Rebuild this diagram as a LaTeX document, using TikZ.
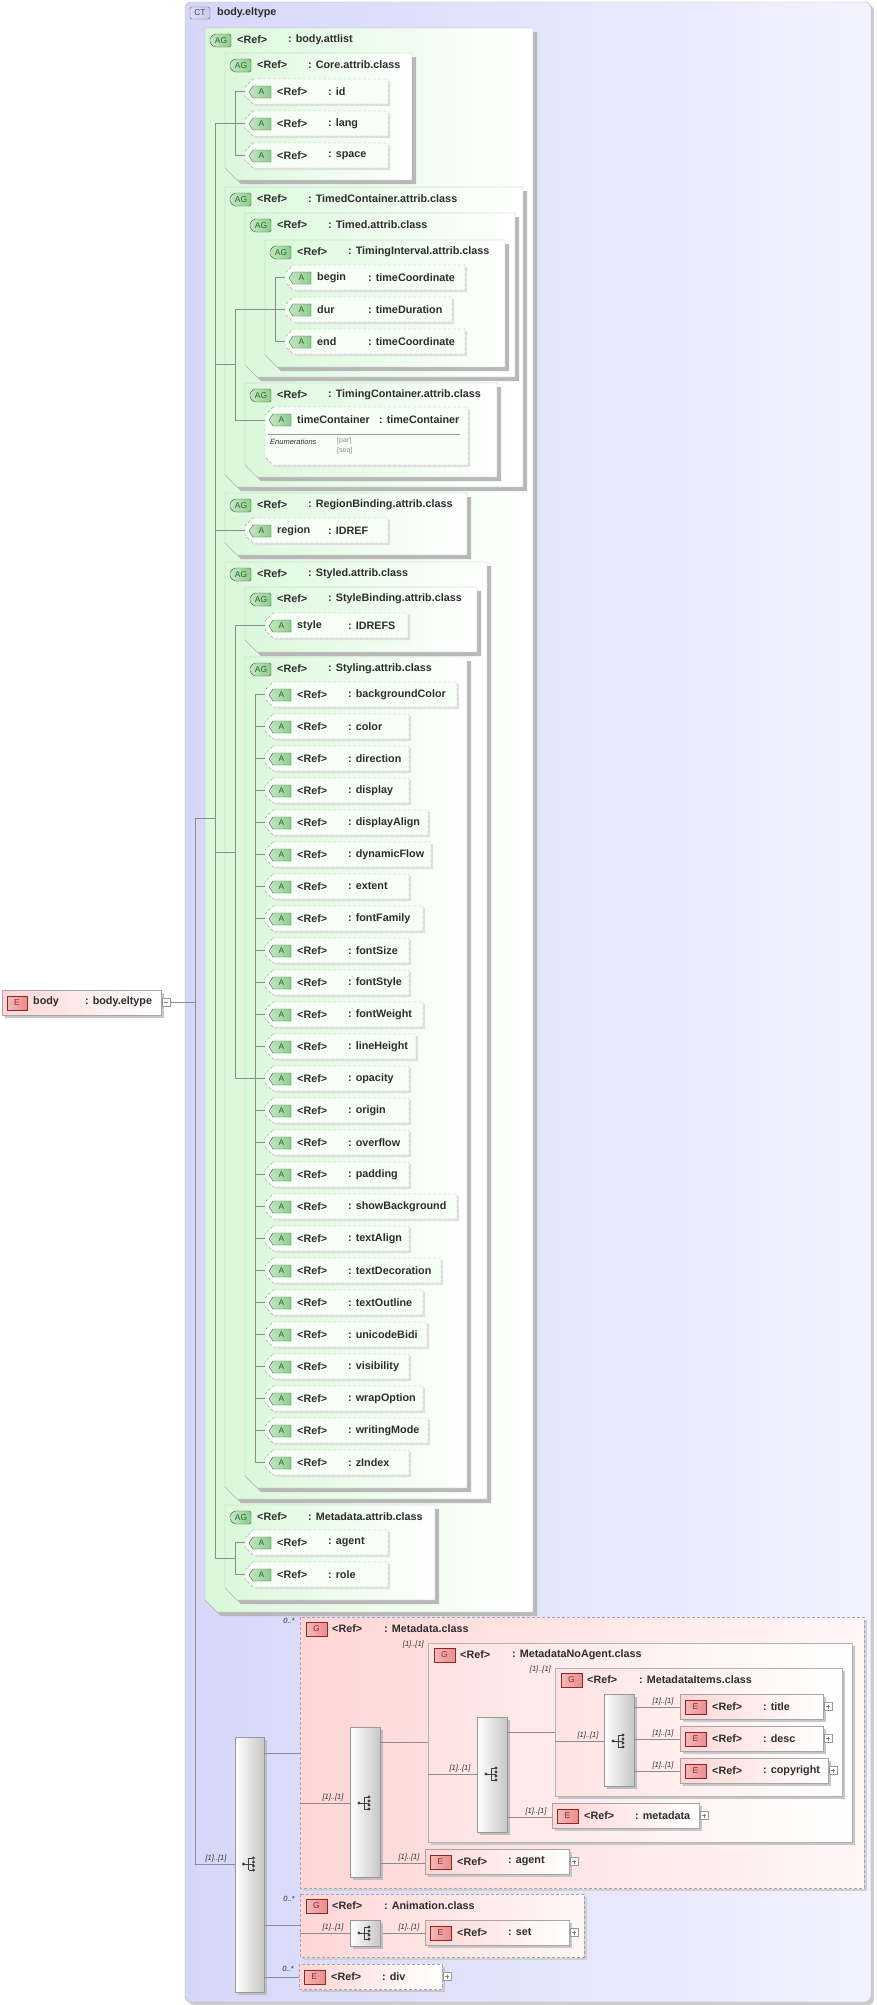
\documentclass[tikz,border=0pt]{standalone}
\usepackage{fontspec}
\setmainfont{Liberation Sans}
\usetikzlibrary{calc}
\definecolor{ctl}{RGB}{214,214,250}
\definecolor{ctr}{RGB}{242,242,255}
\definecolor{gl}{RGB}{218,248,218}
\definecolor{pl}{RGB}{255,214,214}
\definecolor{pr}{RGB}{255,246,246}
\definecolor{lnc}{RGB}{140,140,140}
\definecolor{txt}{RGB}{45,45,45}
\definecolor{icg}{RGB}{140,205,140}
\definecolor{icgd}{RGB}{50,100,50}
\definecolor{icr}{RGB}{235,140,140}
\definecolor{icrd}{RGB}{140,40,40}
\definecolor{icb}{RGB}{200,200,245}
\tikzset{x=1pt,y=-1pt,
 lbl/.style={font=\fontsize{10.8}{12}\selectfont\bfseries, text=txt, inner sep=0pt, anchor=west},
 ml/.style={font=\fontsize{7.5}{9}\selectfont\itshape, text=txt, inner sep=0pt, anchor=south},
 tree/.style={draw=lnc, line width=0.6pt},
 icontxt/.style={font=\fontsize{8.5}{9}\selectfont, inner sep=0pt},
 dsh/.style={dash pattern=on 3pt off 2pt}}
% AG group box: name L T R B text
\newcommand\agbox[6]{%
 \fill[black!28] (#2+4,#3+4)--(#4+4,#3+4)--(#4+4,#5+4)--(#2+16,#5+4)--(#2+4,#5-8)--cycle;
 \shade[left color=gl, right color=white, draw=black!30] (#2,#3)--(#4,#3)--(#4,#5)--(#2+12,#5)--(#2,#5-12)--cycle;
 \shade[left color=icg!50, right color=icg, draw=icgd, rounded corners=1.5pt] (#2+9,#3+6)--(#2+26,#3+6)--(#2+26,#3+19)--(#2+9,#3+19)--(#2+5,#3+15)--(#2+5,#3+10)--cycle;
 \node[icontxt, text=icgd] at (#2+16,#3+12.5) {AG};
 \node[lbl] (#1) at (#2+32,#3+12) {<Ref>};
 \node[lbl] at (#2+83,#3+12) {: #6};}
% A attribute: name L T R left right
\newcommand\aitem[6]{%
 \fill[black!12] (#2+10,#3+2)--(#4+2,#3+2)--(#4+2,#3+27)--(#2+10,#3+27)--(#2+2,#3+19)--(#2+2,#3+10)--cycle;
 \fill[green!4!white] (#2+8,#3)--(#4,#3)--(#4,#3+25)--(#2+8,#3+25)--(#2,#3+17)--(#2,#3+8)--cycle;
 \draw[black!35, dsh] (#2+8,#3)--(#4,#3)--(#4,#3+25)--(#2+8,#3+25)--(#2,#3+17)--(#2,#3+8)--cycle;
 \shade[left color=icg!50, right color=icg, draw=icgd] (#2+8,#3+7)--(#2+26,#3+7)--(#2+26,#3+19)--(#2+8,#3+19)--(#2+4,#3+13)--cycle;
 \node[icontxt, text=icgd] at (#2+16.5,#3+13) {A};
 \node[lbl] (#1) at (#2+32,#3+12.5) {#5};
 \node[lbl] at (#2+83,#3+12.5) {: #6};}
% plus box at x,y(center)
\newcommand\plusbox[2]{%
 \draw[black!40, fill=white] (#1,#2-4) rectangle (#1+8,#2+4);
 \draw[black!50] (#1+2,#2)--(#1+6,#2) (#1+4,#2-2)--(#1+4,#2+2);}
% E element: name L T R right-text style
\newcommand\ebox[6]{%
 \fill[black!22] (#2+3,#3+3) rectangle (#4+3,#3+28);
 \shade[left color=pl, right color=white, draw=black!35, #6] (#2,#3) rectangle (#4,#3+25);
 \shade[left color=icr!60, right color=icr, draw=icrd] (#2+5,#3+6) rectangle (#2+26,#3+20);
 \node[icontxt, text=icrd] at (#2+15.5,#3+13) {E};
 \node[lbl] (#1) at (#2+32,#3+12.5) {<Ref>};
 \node[lbl] at (#2+83,#3+12.5) {: #5};
 \plusbox{#4+1}{#3+12.5}}
% G header: name L T text
\newcommand\ghead[4]{%
 \shade[left color=icr!60, right color=icr, draw=icrd] (#2+6,#3+5) rectangle (#2+27,#3+19);
 \node[icontxt, text=icrd] at (#2+16.5,#3+12) {G};
 \node[lbl] (#1) at (#2+32,#3+11.5) {<Ref>};
 \node[lbl] at (#2+84,#3+11.5) {: #4};}
% sequence bar: name L T R B iconY
\newcommand\seqbar[6]{%
 \fill[black!25] (#2+3,#3+3) rectangle (#4+3,#5+3);
 \shade[left color=white, right color=black!22, draw=black!40] (#2,#3) rectangle (#4,#5);
 \coordinate (#1) at ({(#2+#4)/2},#6);
 \fill[black!75] ($(#1)+(-6,0)$) circle[radius=1.6pt];
 \draw[black!75, line width=0.7pt] ($(#1)+(-6,0)$)--($(#1)+(-1,0)$) ($(#1)+(-1,-6)$)--($(#1)+(-1,6)$)
   ($(#1)+(-1,-6)$)--($(#1)+(4,-6)$) ($(#1)+(-1,0)$)--($(#1)+(4,0)$) ($(#1)+(-1,6)$)--($(#1)+(4,6)$);
 \foreach \d in {-6,-2,2,6} \fill[black!75] ($(#1)+(4,\d)$) circle[radius=1.6pt];}
\begin{document}
\begin{tikzpicture}
\useasboundingbox (0,0) rectangle (876,2005);
% CT frame
\fill[black!20, rounded corners=6pt] (188,5) rectangle (874,2005);
\shade[left color=ctl, right color=ctr, draw=black!30, rounded corners=6pt] (185,2) rectangle (871,2002);
\shade[left color=icb!60, right color=icb, draw=black!60, rounded corners=2pt] (190,7) rectangle (210,19);
\node[icontxt, text=black!70] (ct) at (200,13) {CT};
\node[lbl] (cttitle) at (217,13) {body.eltype};
% body element
\fill[black!22] (5,993) rectangle (164,1018);
\shade[left color=pl, right color=white, draw=black!35] (2,990) rectangle (161,1015);
\shade[left color=icr!60, right color=icr, draw=icrd] (7,996) rectangle (27,1010);
\node[icontxt, text=icrd] at (17,1003) {E};
\node[lbl] (body) at (33,1002) {body};
\node[lbl] at (85,1002) {: body.eltype};
\draw[black!40, fill=white] (162,998) rectangle (170,1006);
\draw[black!50] (164,1002)--(168,1002);
% AG boxes
\agbox{attlist}{205}{28}{533}{1612}{body.attlist}
\agbox{core}{225}{53}{412}{180}{Core.attrib.class}
\aitem{id}{245}{79}{388}{<Ref>}{id}
\aitem{lang}{245}{111}{388}{<Ref>}{lang}
\aitem{space}{245}{143}{388}{<Ref>}{space}
\agbox{timedc}{225}{187}{523}{487}{TimedContainer.attrib.class}
\agbox{timed}{245}{213}{515}{377}{Timed.attrib.class}
\agbox{timingi}{265}{240}{505}{367}{TimingInterval.attrib.class}
\aitem{begin}{285}{265}{465}{begin}{timeCoordinate}
\aitem{dur}{285}{297}{452}{dur}{timeDuration}
\aitem{end}{285}{329}{465}{end}{timeCoordinate}
\agbox{timingc}{245}{383}{497}{477}{TimingContainer.attrib.class}
% timeContainer attribute
\fill[black!12] (275,409)--(470,409)--(470,467)--(275,467)--(267,459)--(267,417)--cycle;
\fill[green!4!white] (273,407)--(468,407)--(468,465)--(273,465)--(265,457)--(265,415)--cycle;
\draw[black!35, dsh] (273,407)--(468,407)--(468,465)--(273,465)--(265,457)--(265,415)--cycle;
\shade[left color=icg!50, right color=icg, draw=icgd] (273,414)--(291,414)--(291,426)--(273,426)--(269,420)--cycle;
\node[icontxt, text=icgd] at (281.5,420) {A};
\node[lbl] (tc) at (297,419.5) {timeContainer};
\node[lbl] at (379,419.5) {: timeContainer};
\draw[black!40] (268,434)--(460,434);
\node[font=\fontsize{7.5}{9}\selectfont\itshape, text=txt, inner sep=0pt, anchor=west] (enum) at (270,442) {Enumerations};
\node[font=\fontsize{7}{8}\selectfont, text=black!45, inner sep=0pt, anchor=west] (par) at (337,441) {[par]};
\node[font=\fontsize{7}{8}\selectfont, text=black!45, inner sep=0pt, anchor=west] (seq) at (337,451) {[seq]};
\agbox{region}{225}{493}{467}{555}{RegionBinding.attrib.class}
\aitem{regiona}{245}{518}{388}{region}{IDREF}
\agbox{styled}{225}{562}{487}{1499}{Styled.attrib.class}
\agbox{styleb}{245}{587}{477}{652}{StyleBinding.attrib.class}
\aitem{stylea}{265}{613}{408}{style}{IDREFS}
\agbox{styling}{245}{657}{467}{1488}{Styling.attrib.class}
\foreach \n/\r [count=\i from 0] in {backgroundColor/457,color/409,direction/409,display/409,displayAlign/428,dynamicFlow/431,extent/409,fontFamily/423,fontSize/409,fontStyle/409,fontWeight/423,lineHeight/416,opacity/409,origin/409,overflow/409,padding/409,showBackground/457,textAlign/409,textDecoration/441,textOutline/423,unicodeBidi/427,visibility/409,wrapOption/423,writingMode/428,zIndex/409}{
 \aitem{s\i}{265}{682+32*\i}{\r}{<Ref>}{\n}
 \draw[tree] (255,694.5+32*\i)--(265,694.5+32*\i);}
\agbox{mdattr}{225}{1505}{435}{1600}{Metadata.attrib.class}
\aitem{agenta}{245}{1530}{388}{<Ref>}{agent}
\aitem{rolea}{245}{1562}{388}{<Ref>}{role}
% attribute tree lines
\draw[tree] (235,91.5)--(235,155.5) \foreach \y in {91.5,123.5,155.5}{(235,\y)--(245,\y)};
\draw[tree] (275,277.5)--(275,341.5) \foreach \y in {277.5,309.5,341.5}{(275,\y)--(285,\y)};
\draw[tree] (255,309.5)--(275,309.5);
\draw[tree] (255,420)--(265,420);
\draw[tree] (235,309.5)--(235,420) (235,309.5)--(255,309.5) (235,420)--(255,420);
\draw[tree] (235,530.5)--(245,530.5);
\draw[tree] (255,625.5)--(265,625.5);
\draw[tree] (255,694.5)--(255,1462.5);
\draw[tree] (235,625.5)--(235,1078.5) (235,625.5)--(255,625.5) (235,1078.5)--(255,1078.5);
\draw[tree] (235,1542.5)--(235,1574.5) (235,1542.5)--(245,1542.5) (235,1574.5)--(245,1574.5);
\draw[tree] (215,123.5)--(215,1558.5) \foreach \y in {123.5,364.75,530.5,852,1558.5}{(215,\y)--(235,\y)};
% main tree
\draw[tree] (170,1002)--(195,1002) (195,818)--(195,1864) (195,818)--(215,818) (195,1864)--(235,1864);
\node[ml] at (216,1862) {[1]..[1]};
\seqbar{seq1}{235}{1737}{264}{1992}{1864}
% Metadata.class
\fill[black!18] (303,1620) rectangle (867,1891);
\shade[left color=pl, right color=pr, draw=black!35, dsh] (300,1617) rectangle (864,1888);
\ghead{mdclass}{300}{1617}{Metadata.class}
\node[ml] at (289,1624) {0..*};
\draw[tree] (264,1753)--(300,1753) (300,1803)--(350,1803);
\node[ml] at (333,1801) {[1]..[1]};
\seqbar{seq2}{350}{1727}{380}{1877}{1803}
\draw[tree] (380,1742)--(428,1742);
\node[ml, anchor=south east] at (424,1648) {[1]..[1]};
\fill[black!22] (431,1646) rectangle (855,1845);
\shade[left color=pl!70!white, right color=white, draw=black!30] (428,1643) rectangle (852,1842);
\ghead{noagent}{428}{1643}{MetadataNoAgent.class}
\draw[tree] (380,1863)--(425,1863);
\node[ml] at (409,1861) {[1]..[1]};
\ebox{agente}{425}{1849}{569}{agent}{}
\draw[tree] (428,1774)--(477,1774);
\node[ml] at (460,1772) {[1]..[1]};
\seqbar{seq3}{477}{1717}{507}{1832}{1774}
\draw[tree] (507,1732)--(555,1732);
\node[ml, anchor=south east] at (551,1673) {[1]..[1]};
\draw[tree] (507,1817)--(552,1817);
\node[ml] at (536,1815) {[1]..[1]};
\ebox{metadatae}{552}{1803}{699}{metadata}{}
\fill[black!22] (558,1671) rectangle (845,1799);
\shade[left color=pl!70!white, right color=white, draw=black!30] (555,1668) rectangle (842,1796);
\ghead{mditems}{555}{1668}{MetadataItems.class}
\draw[tree] (555,1741)--(604,1741);
\node[ml] at (588,1739) {[1]..[1]};
\seqbar{seq4}{604}{1694}{634}{1786}{1741}
\foreach \t/\r/\nm [count=\k from 0] in {title/823/titlee,desc/823/desce,copyright/828/copyrighte}{
 \draw[tree] (634,1707+32*\k)--(680,1707+32*\k);
 \node[ml] at (663,1705+32*\k) {[1]..[1]};
 \ebox{\nm}{680}{1694+32*\k}{\r}{\t}{}}
% Animation.class
\fill[black!18] (303,1897) rectangle (587,1960);
\shade[left color=pl, right color=pr, draw=black!35, dsh] (300,1894) rectangle (584,1957);
\ghead{anim}{300}{1894}{Animation.class}
\node[ml] at (289,1902) {0..*};
\draw[tree] (264,1925)--(300,1925) (300,1933)--(350,1933) (380,1933)--(425,1933);
\node[ml] at (333,1931) {[1]..[1]};
\node[ml] at (409,1931) {[1]..[1]};
\seqbar{seq5}{350}{1920}{380}{1946}{1933}
\ebox{sete}{425}{1920}{569}{set}{}
% div
\draw[tree] (264,1977)--(299,1977);
\node[ml] at (288,1972) {0..*};
\ebox{dive}{299}{1964}{442}{div}{dsh}
\end{tikzpicture}
\end{document}
